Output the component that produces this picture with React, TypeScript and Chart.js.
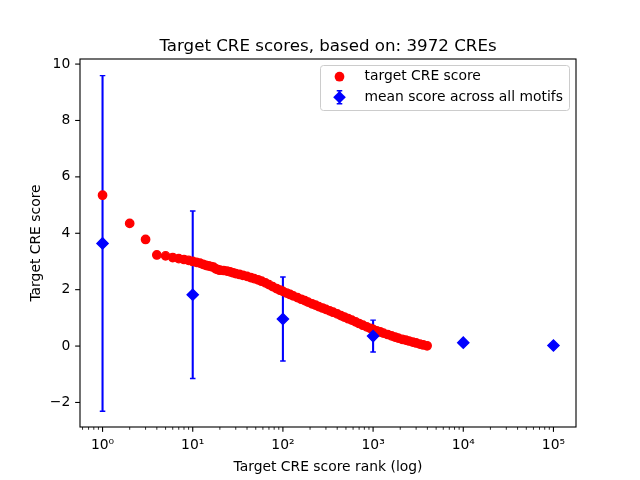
import React, { useEffect, useRef } from "react";
import { Chart, registerables } from "chart.js";

Chart.register(...registerables);

const TITLE = "Target CRE scores, based on: 3972 CREs";
const X_LABEL = "Target CRE score rank (log)";
const Y_LABEL = "Target CRE score";
const RED_LABEL = "target CRE score";
const BLUE_LABEL = "mean score across all motifs";

const creRanks = [
  1, 2, 3, 4, 5, 6, 7, 8, 9, 10, 11, 12, 13, 14, 15, 16, 17, 18, 19, 20,
  22, 24, 26, 28, 30, 33, 36, 40, 44, 48, 53, 58, 64, 70, 77, 85, 93, 100,
  110, 120, 130, 145, 160, 175, 190, 210, 230, 250, 275, 300, 330, 360, 400,
  440, 480, 530, 580, 640, 700, 770, 850, 930, 1000, 1100, 1200, 1300, 1450,
  1600, 1750, 1900, 2100, 2300, 2500, 2750, 3000, 3300, 3600, 3972,
];
const creScores = [
  5.35, 4.35, 3.78, 3.23, 3.2, 3.14, 3.1, 3.07, 3.04, 3.0, 2.97, 2.94, 2.9,
  2.86, 2.84, 2.82, 2.8, 2.74, 2.71, 2.69, 2.68, 2.66, 2.63, 2.6, 2.57, 2.54,
  2.51, 2.47, 2.43, 2.39, 2.35, 2.3, 2.24, 2.18, 2.11, 2.04, 1.98, 1.94, 1.88,
  1.83, 1.78, 1.72, 1.66, 1.61, 1.56, 1.5, 1.45, 1.4, 1.35, 1.3, 1.25, 1.2,
  1.14, 1.08, 1.03, 0.97, 0.92, 0.86, 0.8, 0.74, 0.68, 0.63, 0.59, 0.54, 0.5,
  0.46, 0.41, 0.36, 0.32, 0.28, 0.24, 0.21, 0.18, 0.14, 0.11, 0.07, 0.04, 0.01,
];

const motifRanks = [1, 10, 100, 1000, 10000, 100000];
const motifMeans = [3.64, 1.82, 0.96, 0.355, 0.12, 0.02];
const motifErrors = [5.95, 2.97, 1.49, 0.565, 0.08, 0.02];

const yTicks = [-2, 0, 2, 4, 6, 8, 10];
const xDecades = [-1, 0, 1, 2, 3, 4, 5];
const xMinorMultipliers = [2, 3, 4, 5, 6, 7, 8, 9];
const SUPERSCRIPTS = ["⁰", "¹", "²", "³", "⁴", "⁵", "⁶", "⁷", "⁸", "⁹"];

const X_MIN = Math.pow(10, -0.25);
const X_MAX = Math.pow(10, 5.25);
const Y_MIN = -2.87;
const Y_MAX = 10.18;

const PT = 100 / 72;
const FONT = "'DejaVu Sans'";
const FS = 10 * PT;

const isDecade = (v: number) => {
  const l = Math.log10(v);
  return Math.abs(l - Math.round(l)) < 1e-9;
};

const mplPlugin = {
  id: "mplPlugin",
  beforeDatasetsDraw(chart: any) {
    const ctx = chart.ctx;
    const xs = chart.scales.x;
    const ys = chart.scales.y;
    chart.data.datasets.forEach((ds: any) => {
      if (!ds.errors) return;
      ctx.save();
      ctx.strokeStyle = ds.borderColor;
      ds.data.forEach((p: any, j: number) => {
        const e = ds.errors[j];
        const x = xs.getPixelForValue(p.x);
        const y1 = ys.getPixelForValue(p.y + e);
        const y2 = ys.getPixelForValue(p.y - e);
        ctx.lineWidth = 1.5 * PT;
        ctx.beginPath();
        ctx.moveTo(x, y1);
        ctx.lineTo(x, y2);
        ctx.stroke();
        const cap = 2 * PT;
        ctx.lineWidth = 1 * PT;
        ctx.beginPath();
        ctx.moveTo(x - cap, y1);
        ctx.lineTo(x + cap, y1);
        ctx.moveTo(x - cap, y2);
        ctx.lineTo(x + cap, y2);
        ctx.stroke();
      });
      ctx.restore();
    });
  },
  afterDatasetsDraw(chart: any) {
    const ctx = chart.ctx;
    const { left, right, top, bottom } = chart.chartArea;
    const xs = chart.scales.x;
    const ys = chart.scales.y;
    ctx.save();
    ctx.strokeStyle = "#000";
    xs.ticks.forEach((t: any) => {
      const major = isDecade(t.value);
      const x = xs.getPixelForValue(t.value);
      ctx.lineWidth = (major ? 0.8 : 0.6) * PT;
      ctx.beginPath();
      ctx.moveTo(x, bottom);
      ctx.lineTo(x, bottom + (major ? 3.5 : 2) * PT);
      ctx.stroke();
    });
    ys.ticks.forEach((t: any) => {
      const y = ys.getPixelForValue(t.value);
      ctx.lineWidth = 0.8 * PT;
      ctx.beginPath();
      ctx.moveTo(left, y);
      ctx.lineTo(left - 3.5 * PT, y);
      ctx.stroke();
    });
    ctx.lineWidth = 0.8 * PT;
    ctx.strokeRect(left, top, right - left, bottom - top);
    ctx.fillStyle = "#000";
    ctx.font = `${12 * PT}px ${FONT}`;
    ctx.textAlign = "center";
    ctx.textBaseline = "alphabetic";
    ctx.fillText(TITLE, (left + right) / 2, top - 6 * PT);
    ctx.restore();
  },
  afterDraw(chart: any) {
    const ctx = chart.ctx;
    const { right, top } = chart.chartArea;
    const ds = chart.data.datasets;
    const boxW = 249;
    const boxH = 45;
    const bx = right - 6.5 - boxW;
    const by = top + 6.5;
    ctx.save();
    const r = 3;
    ctx.beginPath();
    ctx.moveTo(bx + r, by);
    ctx.lineTo(bx + boxW - r, by);
    ctx.quadraticCurveTo(bx + boxW, by, bx + boxW, by + r);
    ctx.lineTo(bx + boxW, by + boxH - r);
    ctx.quadraticCurveTo(bx + boxW, by + boxH, bx + boxW - r, by + boxH);
    ctx.lineTo(bx + r, by + boxH);
    ctx.quadraticCurveTo(bx, by + boxH, bx, by + boxH - r);
    ctx.lineTo(bx, by + r);
    ctx.quadraticCurveTo(bx, by, bx + r, by);
    ctx.closePath();
    ctx.fillStyle = "rgba(255,255,255,0.8)";
    ctx.fill();
    ctx.strokeStyle = "#cccccc";
    ctx.lineWidth = 1;
    ctx.stroke();

    const mx = bx + 19;
    const tx = bx + 44;
    const rows = [by + 11.2, by + 31.8];
    ctx.fillStyle = ds[0].backgroundColor;
    ctx.beginPath();
    ctx.arc(mx, rows[0], 4.17 + 0.7, 0, Math.PI * 2);
    ctx.fill();
    ctx.strokeStyle = ds[1].borderColor;
    ctx.lineWidth = 1.5 * PT;
    ctx.beginPath();
    ctx.moveTo(mx, rows[1] - 6.5);
    ctx.lineTo(mx, rows[1] + 6.5);
    ctx.stroke();
    ctx.lineWidth = 1 * PT;
    ctx.beginPath();
    ctx.moveTo(mx - 2 * PT, rows[1] - 6.5);
    ctx.lineTo(mx + 2 * PT, rows[1] - 6.5);
    ctx.moveTo(mx - 2 * PT, rows[1] + 6.5);
    ctx.lineTo(mx + 2 * PT, rows[1] + 6.5);
    ctx.stroke();
    ctx.fillStyle = ds[1].backgroundColor;
    const d = 6.3;
    ctx.beginPath();
    ctx.moveTo(mx, rows[1] - d);
    ctx.lineTo(mx + d, rows[1]);
    ctx.lineTo(mx, rows[1] + d);
    ctx.lineTo(mx - d, rows[1]);
    ctx.closePath();
    ctx.fill();

    ctx.fillStyle = "#000";
    ctx.font = `${FS}px ${FONT}`;
    ctx.textAlign = "left";
    ctx.textBaseline = "middle";
    ctx.fillText(ds[0].label, tx, rows[0]);
    ctx.fillText(ds[1].label, tx, rows[1]);
    ctx.restore();
  },
};

export default function App() {
  const canvasRef = useRef<HTMLCanvasElement | null>(null);

  useEffect(() => {
    const canvas = canvasRef.current;
    if (!canvas) return;
    Chart.defaults.font.family = FONT;
    Chart.defaults.font.size = FS;
    Chart.defaults.color = "#000";

    const chart = new Chart(canvas, {
      type: "scatter",
      data: {
        datasets: [
          {
            label: RED_LABEL,
            data: creRanks.map((r, i) => ({ x: r, y: creScores[i] })),
            backgroundColor: "#ff0000",
            borderColor: "#ff0000",
            pointStyle: "circle",
            pointRadius: 4.17,
            pointBorderWidth: 1.39,
            pointHoverRadius: 4.17,
            showLine: false,
            order: 1,
          },
          {
            label: BLUE_LABEL,
            data: motifRanks.map((r, i) => ({ x: r, y: motifMeans[i] })),
            errors: motifErrors,
            backgroundColor: "#0000ff",
            borderColor: "#0000ff",
            pointStyle: "rectRot",
            pointRadius: 5.6,
            pointBorderWidth: 1.39,
            pointHoverRadius: 5.6,
            showLine: false,
            order: 0,
          } as any,
        ],
      },
      options: {
        animation: false,
        responsive: false,
        devicePixelRatio: 1,
        layout: { padding: { top: 59, right: 64, left: 0, bottom: 0 } },
        plugins: {
          legend: { display: false },
          tooltip: { enabled: false },
          title: { display: false },
        },
        scales: {
          x: {
            type: "logarithmic",
            min: X_MIN,
            max: X_MAX,
            afterBuildTicks: (scale: any) => {
              const ticks: any[] = [];
              xDecades.forEach((dd) => {
                [1, ...xMinorMultipliers].forEach((m) => {
                  const v = m * Math.pow(10, dd);
                  if (v >= X_MIN && v <= X_MAX) ticks.push({ value: v });
                });
              });
              scale.ticks = ticks;
            },
            afterFit: (scale: any) => {
              scale.height = 53;
            },
            ticks: {
              autoSkip: false,
              maxRotation: 0,
              minRotation: 0,
              padding: 3.5 * PT,
              color: "#000",
              font: { family: FONT, size: FS },
              callback: (value: any) => {
                const v = Number(value);
                if (!isDecade(v)) return "";
                const e = Math.round(Math.log10(v));
                return "10" + String(e).split("").map((c) => SUPERSCRIPTS[Number(c)]).join("");
              },
            },
            grid: {
              display: true,
              drawOnChartArea: false,
              drawTicks: true,
              tickLength: 3.5 * PT,
              color: "rgba(0,0,0,0)",
            },
            border: { display: false },
            title: {
              display: true,
              text: X_LABEL,
              color: "#000",
              font: { family: FONT, size: FS },
              padding: { top: 0, bottom: 4.7 },
            },
          },
          y: {
            type: "linear",
            min: Y_MIN,
            max: Y_MAX,
            afterBuildTicks: (scale: any) => {
              scale.ticks = yTicks.map((v) => ({ value: v }));
            },
            afterFit: (scale: any) => {
              scale.width = 80;
            },
            ticks: {
              autoSkip: false,
              padding: 3.5 * PT,
              color: "#000",
              font: { family: FONT, size: FS },
              callback: (value: any) => {
                const v = Number(value);
                return v < 0 ? "\u2212" + Math.abs(v) : String(v);
              },
            },
            grid: {
              display: true,
              drawOnChartArea: false,
              drawTicks: true,
              tickLength: 3.5 * PT,
              color: "rgba(0,0,0,0)",
            },
            border: { display: false },
            title: {
              display: true,
              text: Y_LABEL,
              color: "#000",
              font: { family: FONT, size: FS },
              padding: { top: 27.7, bottom: 0 },
            },
          },
        },
      },
      plugins: [mplPlugin],
    });
    return () => chart.destroy();
  }, []);

  return (
    <div style={{ position: "absolute", left: 0, top: 0, width: 640, height: 480, background: "#fff" }}>
      <canvas ref={canvasRef} width={640} height={480} style={{ display: "block" }} />
    </div>
  );
}
